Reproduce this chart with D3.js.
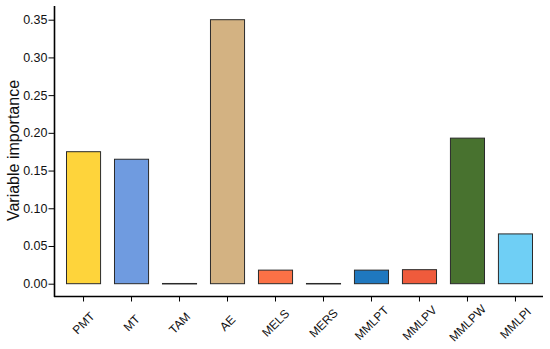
<!DOCTYPE html>
<html>
<head>
<meta charset="utf-8">
<script src="https://cdn.jsdelivr.net/npm/d3@7"></script>
<style>
  body { margin: 0; background: #fff; }
  svg { display: block; font-family: "Liberation Sans", Arial, sans-serif; }
</style>
</head>
<body>
<svg id="chart" width="550" height="349"></svg>
<script>
  const categories = ["PMT", "MT", "TAM", "AE", "MELS", "MERS", "MMLPT", "MMLPV", "MMLPW", "MMLPI"];
  const importance = [0.175, 0.165, 0.0003, 0.35, 0.018, 0.0003, 0.018, 0.0186, 0.193, 0.066];
  const barColors = ["#fed43b", "#6f9be0", "#9a9a9a", "#d3b282", "#fb7146", "#9a9a9a", "#1f78bf", "#ef5b3c", "#48722f", "#6fcff5"];
  const yTicks = [0, 0.05, 0.1, 0.15, 0.2, 0.25, 0.3, 0.35];

  const svg = d3.select("#chart");

  const x = d3.scaleBand()
    .domain(categories)
    .range([54.5, 544.5])
    .paddingInner(0.29)
    .paddingOuter(0.25);

  const y = d3.scaleLinear()
    .domain([0, 0.35])
    .range([283.7, 19.7]);

  // bars
  svg.append("g")
    .selectAll("rect")
    .data(categories)
    .join("rect")
    .attr("x", (d) => x(d))
    .attr("width", x.bandwidth())
    .attr("y", (d, i) => y(importance[i]))
    .attr("height", (d, i) => Math.max(0.5, y(0) - y(importance[i])))
    .attr("fill", (d, i) => barColors[i])
    .attr("stroke", "#2a2a2a")
    .attr("stroke-width", 1);

  // y axis
  const yAxis = svg.append("g")
    .attr("transform", "translate(54.5,0)")
    .call(d3.axisLeft(y).tickValues(yTicks).tickFormat(d3.format(".2f")).tickSize(6).tickSizeOuter(0));
  yAxis.select(".domain").remove();
  yAxis.append("line")
    .attr("x1", 0).attr("x2", 0)
    .attr("y1", 6).attr("y2", 297)
    .attr("stroke", "#000").attr("stroke-width", 1.6);
  yAxis.selectAll(".tick line").attr("stroke", "#000").attr("stroke-width", 1);
  yAxis.selectAll(".tick text")
    .attr("x", -7)
    .attr("fill", "#111")
    .style("font-size", "12.5px");

  // x axis
  const xAxis = svg.append("g")
    .attr("transform", "translate(0,296.5)")
    .call(d3.axisBottom(x).tickSize(5).tickSizeOuter(0));
  xAxis.select(".domain").remove();
  xAxis.append("line")
    .attr("x1", 54).attr("x2", 543)
    .attr("y1", 0).attr("y2", 0)
    .attr("stroke", "#000").attr("stroke-width", 1.6);
  xAxis.selectAll(".tick line").attr("stroke", "#000").attr("stroke-width", 1);
  xAxis.selectAll(".tick text")
    .attr("y", 0)
    .attr("dy", 0)
    .attr("text-anchor", "middle")
    .attr("transform", "translate(3,29.5) rotate(-45)")
    .attr("fill", "#111")
    .style("font-size", "12px");

  // y label
  svg.append("text")
    .attr("transform", "translate(18.5,150.5) rotate(-90)")
    .attr("text-anchor", "middle")
    .style("font-size", "16px")
    .attr("fill", "#111")
    .text("Variable importance");
</script>
</body>
</html>
